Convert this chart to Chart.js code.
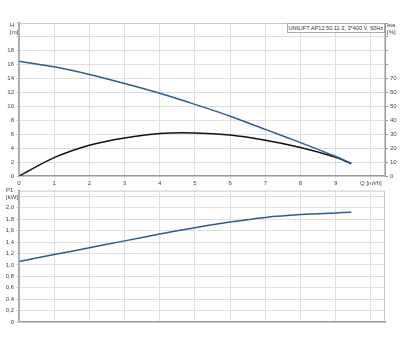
<!DOCTYPE html>
<html lang="en">
<head>
  <meta charset="UTF-8">
  <title>UNILIFT AP12.50.11.3 curves</title>
  <style>
    body { margin: 0; background: #fff; font-family: "Liberation Sans", Arial, sans-serif; }
    #wrap { position: relative; width: 400px; height: 350px; }
    canvas { position: absolute; left: 0; }
    #top { top: 0; }
    #bottom { top: 185px; }
    .lbl { position: absolute; font-size: 6px; line-height: 7px; color: #444; }
    #legend {
      position: absolute; right: 15px; top: 23px; height: 8px; padding: 0 1px;
      border: 1px solid #aaa; background: #fff; font-size: 5.6px; line-height: 8px;
      color: #333; white-space: nowrap;
    }
  </style>
  <script src="https://cdn.jsdelivr.net/npm/chart.js"></script>
</head>
<body>
  <div id="wrap">
    <canvas id="top" width="400" height="190"></canvas>
    <canvas id="bottom" width="400" height="165"></canvas>
    <div class="lbl" style="left:10px;top:22px;">H<br>[m]</div>
    <div class="lbl" style="left:387px;top:22px;">eta<br>[%]</div>
    <div class="lbl" style="left:6px;top:187px;">P1<br>[kW]</div>
    <div id="legend">UNILIFT AP12.50.11.3, 3*400 V, 50Hz</div>
  </div>

  <script>
    // values
    const flow = [0, 1, 2, 3, 4, 5, 6, 7, 8, 9, 9.44];
    const head = [16.5, 15.7, 14.6, 13.3, 11.9, 10.3, 8.6, 6.7, 4.8, 2.8, 1.8];
    const eta = [0, 13.2, 22.1, 27.4, 30.6, 31, 29.4, 25.7, 20.5, 13.5, 9];
    const power = [1.06, 1.18, 1.30, 1.42, 1.54, 1.65, 1.75, 1.83, 1.88, 1.91, 1.92];

    const blue = '#2d5d8c';
    const gridColor = '#dedede';
    const axisColor = '#999';
    const tickFont = { size: 6, family: '"Liberation Sans", Arial, sans-serif' };

    const pts = (ys) => flow.map((q, i) => ({ x: q, y: ys[i] }));

    // light frame round the plot area
    const frame = {
      id: 'frame',
      afterDraw(chart) {
        const a = chart.chartArea, c = chart.ctx;
        c.save();
        c.strokeStyle = '#c8c8c8';
        c.lineWidth = 1;
        c.strokeRect(a.left, a.top + 0.5, a.right - a.left - 0.5, a.bottom - a.top);
        c.restore();
      }
    };

    function xScale(showLabels) {
      return {
        type: 'linear', min: 0, max: 10.4,
        afterFit: (s) => { s.height = showLabels ? 14 : 28; },
        border: { color: axisColor, width: 2 },
        grid: { color: gridColor, tickLength: 3, drawTicks: showLabels },
        ticks: {
          stepSize: 1, includeBounds: false, maxRotation: 0, autoSkip: false,
          display: showLabels, font: tickFont, color: '#444', padding: 1,
          callback: (v) => v === 10 ? 'Q [m³/h]' : v
        }
      };
    }

    const lineOpts = { pointRadius: 0, borderWidth: 1.5, tension: 0.3, fill: false };

    new Chart(document.getElementById('top'), {
      type: 'line',
      data: {
        datasets: [
          { ...lineOpts, label: 'H', data: pts(head), borderColor: blue, yAxisID: 'y' },
          { ...lineOpts, label: 'eta', data: pts(eta), borderColor: '#111', yAxisID: 'y2' }
        ]
      },
      options: {
        responsive: false, animation: false, devicePixelRatio: 1,
        layout: { padding: { top: 23, left: 0, right: 0, bottom: 0 } },
        plugins: { legend: { display: false }, tooltip: { enabled: false } },
        scales: {
          x: xScale(true),
          y: {
            position: 'left', min: 0, max: 22,
            afterFit: (s) => { s.width = 19; },
            border: { color: axisColor, width: 2 },
            grid: { color: gridColor, tickLength: 3 },
            ticks: { stepSize: 2, font: tickFont, color: '#444', padding: 2,
                     callback: (v) => v > 18 ? '' : v }
          },
          y2: {
            position: 'right', min: 0, max: 110,
            afterFit: (s) => { s.width = 15; },
            border: { color: axisColor, width: 1 },
            grid: { drawOnChartArea: false, color: axisColor, tickLength: 3 },
            ticks: { stepSize: 10, font: tickFont, color: '#444', padding: 2,
                     callback: (v) => v > 70 ? '' : v }
          }
        }
      },
      plugins: [frame]
    });

    new Chart(document.getElementById('bottom'), {
      type: 'line',
      data: {
        datasets: [
          { ...lineOpts, label: 'P1', data: pts(power), borderColor: blue }
        ]
      },
      options: {
        responsive: false, animation: false, devicePixelRatio: 1,
        layout: { padding: { top: 3, left: 0, right: 15, bottom: 0 } },
        plugins: { legend: { display: false }, tooltip: { enabled: false } },
        scales: {
          x: xScale(false),
          y: {
            position: 'left', min: 0, max: 2.3,
            afterFit: (s) => { s.width = 19; },
            border: { color: axisColor, width: 2 },
            grid: { color: gridColor, tickLength: 3 },
            ticks: { stepSize: 0.2, includeBounds: false, font: tickFont, color: '#444', padding: 2,
                     callback: (v) => v > 2.05 ? '' : (v === 0 ? '0' : v.toFixed(1).replace('.', ',')) }
          }
        }
      },
      plugins: [frame]
    });
  </script>
</body>
</html>
